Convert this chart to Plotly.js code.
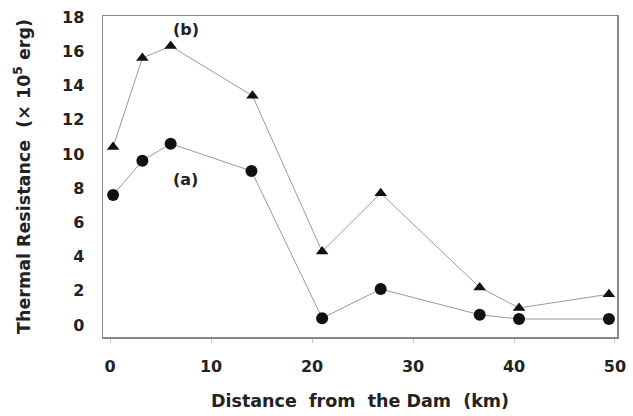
<!DOCTYPE html>
<html><head><meta charset="utf-8">
<script src="https://cdn.plot.ly/plotly-3.0.1.min.js"></script>
<style>html,body{margin:0;padding:0;background:#fff}#c{width:633px;height:416px}</style>
</head><body><div id="c"></div>
<script>
const distA = [0.3, 3.2, 6.0, 14.0, 21.0, 26.8, 36.6, 40.5, 49.4];
const resA  = [7.6, 9.6, 10.6, 9.0, 0.4, 2.1, 0.6, 0.35, 0.35];
const distB = [0.3, 3.2, 6.0, 14.1, 21.0, 26.8, 36.6, 40.5, 49.4];
const resB  = [10.4, 15.6, 16.3, 13.4, 4.3, 7.7, 2.2, 1.0, 1.8];
const xTicks = [0, 10, 20, 30, 40, 50];
const yTicks = [0, 2, 4, 6, 8, 10, 12, 14, 16, 18];

const FAM = 'DejaVu Sans, Liberation Sans, Arial, sans-serif';
const lineStyle = {color: '#9a9a9a', width: 1};
const traces = [
  {x: distA, y: resA, mode: 'lines+markers', name: '(a)', line: lineStyle,
   marker: {symbol: 'circle', size: 12, color: '#111'}},
  {x: distB, y: resB, mode: 'lines+markers', name: '(b)', line: lineStyle,
   marker: {symbol: 'triangle-up', size: 11, color: '#111'}}
];
const tf = {family: FAM, size: 16, color: '#222', weight: 'bold'};
const ttl = {family: FAM, size: 17.5, color: '#222', weight: 'bold'};
const layout = {
  width: 633, height: 416,
  margin: {l: 103, r: 16, t: 16, b: 79},
  paper_bgcolor: '#fff', plot_bgcolor: '#fff',
  showlegend: false,
  font: {family: FAM, size: 16, color: '#222'},
  xaxis: {
    range: [-0.7, 50.2], tickvals: xTicks, showgrid: false, zeroline: false,
    showline: true, linecolor: '#888', linewidth: 1.5, mirror: true,
    ticks: 'outside', ticklen: 4, tickcolor: '#c8c8c8', ticklabelstandoff: 10,
    tickfont: tf,
    title: {text: 'Distance&nbsp;&nbsp;from&nbsp;&nbsp;the Dam&nbsp;&nbsp;(km)', standoff: 20, font: ttl}
  },
  yaxis: {
    range: [-0.7, 18.06], tickvals: yTicks, showgrid: false, zeroline: false,
    showline: true, linecolor: '#888', linewidth: 1.5, mirror: true,
    ticks: '', ticklabelstandoff: 14,
    tickfont: tf,
    title: {text: 'Thermal Resistance&nbsp;&nbsp;(× 10<sup>5</sup> erg)', standoff: 27, font: ttl}
  },
  annotations: [
    {x: 7.5, y: 17.3, text: '(b)', showarrow: false, xref: 'x', yref: 'y', font: tf},
    {x: 7.5, y: 8.5, text: '(a)', showarrow: false, xref: 'x', yref: 'y', font: tf}
  ]
};
Plotly.newPlot('c', traces, layout, {displayModeBar: false, staticPlot: true});
</script>
</body></html>
